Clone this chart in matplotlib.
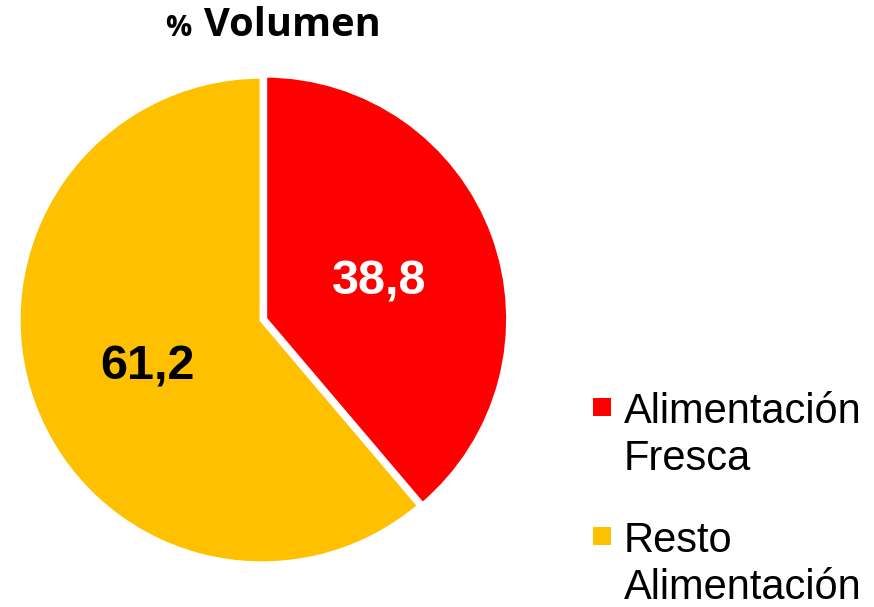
import matplotlib.pyplot as plt
from matplotlib.patches import Rectangle

plt.rcParams['font.family'] = ['Liberation Sans', 'DejaVu Sans']

categories = ['Alimentación\nFresca', 'Resto\nAlimentación']
values = [38.8, 61.2]
colors = ['#FF0000', '#FFC000']
label_colors = ['white', 'black']

W, H = 874, 607
fig = plt.figure(figsize=(W / 100, H / 100), dpi=100)

# pie axes placed in pixels: centre (262, 320), radius 245
cx, cy, r = 262, 320, 245
ax = fig.add_axes([(cx - r) / W, (H - cy - r) / H, 2 * r / W, 2 * r / H])
wedges, texts, autotexts = ax.pie(
    values, colors=colors, startangle=90, counterclock=False,
    explode=[0.012, 0], radius=0.995,
    autopct=lambda p: f'{p:.1f}'.replace('.', ','), pctdistance=0.5,
    wedgeprops=dict(edgecolor='white', linewidth=3.5),
    textprops=dict(fontsize=35, fontweight='bold'))
for t, c in zip(autotexts, label_colors):
    t.set_color(c)
    x, y = t.get_position()
    t.set_position((x, y - 0.022))  # labels sit a touch lower in the original
ax.set_xlim(-1, 1)
ax.set_ylim(-1, 1)
ax.set_aspect('equal')
ax.axis('off')

# title with small percent sign
fig.text(191 / W, 1 - 36 / H, '%', fontsize=21, fontweight='bold', ha='right',
         va='baseline', family='Open Sans')
fig.text(204 / W, 1 - 36 / H, 'Volumen', fontsize=28.6, fontweight='bold', ha='left',
         va='baseline', family='Open Sans')

# legend drawn by hand: square beside first line of each label
first_baselines = [423, 552]
line_step = 47
for label, col, base in zip(categories, colors, first_baselines):
    sq_y = base - 16
    fig.patches.append(Rectangle(((602 - 9) / W, 1 - (sq_y + 9) / H), 18 / W, 18 / H,
                                 facecolor=col, edgecolor='none',
                                 transform=fig.transFigure))
    for i, line in enumerate(label.split('\n')):
        fig.text(624 / W, 1 - (base + i * line_step) / H, line, fontsize=30,
                 ha='left', va='baseline')

fig.savefig('out.png', dpi=100)
